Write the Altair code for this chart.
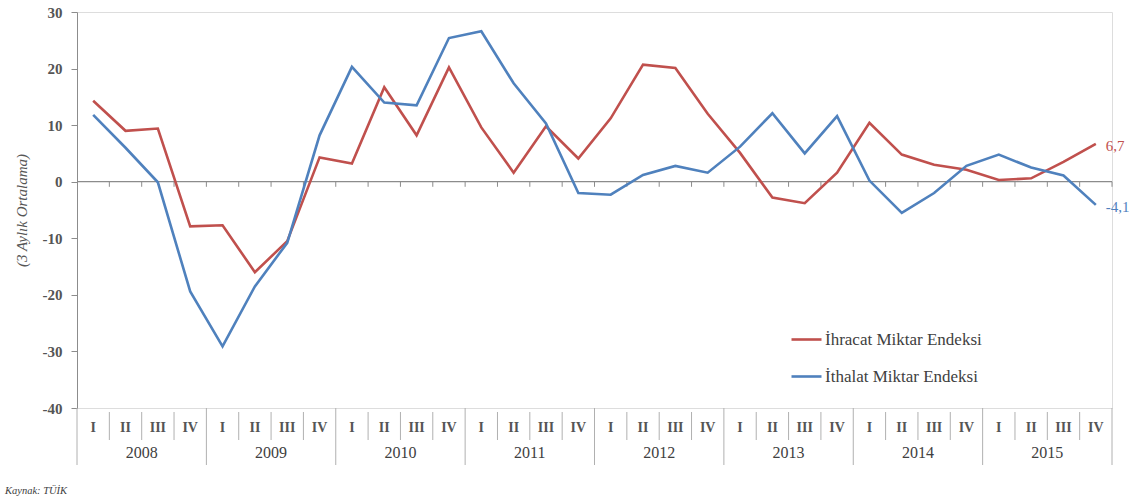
import altair as alt
import pandas as pd

years = ["2008", "2009", "2010", "2011", "2012", "2013", "2014", "2015"]
quarters = ["I", "II", "III", "IV"]
ihracat = [14.3, 9.0, 9.4, -7.9, -7.7, -16.0, -10.5, 4.3,
           3.2, 16.7, 8.2, 20.2, 9.6, 1.6, 9.8, 4.1,
           11.2, 20.7, 20.1, 12.0, 5.1, -2.8, -3.8, 1.6,
           10.4, 4.8, 3.0, 2.1, 0.3, 0.6, 3.5, 6.7]
ithalat = [11.8, 6.0, -0.1, -19.4, -29.1, -18.5, -10.8, 8.2,
           20.3, 14.0, 13.5, 25.4, 26.6, 17.4, 10.3, -2.0,
           -2.3, 1.2, 2.8, 1.6, 6.2, 12.1, 5.0, 11.6,
           0.2, -5.5, -2.0, 2.8, 4.8, 2.5, 1.1, -4.1]
series_names = ["İhracat Miktar Endeksi", "İthalat Miktar Endeksi"]
colors = ["#C0504D", "#4F81BD"]
end_labels = ["6,7", "-4,1"]
y_title = "(3 Aylık Ortalama)"
source_text = "Kaynak: TÜİK"

FONT = "Liberation Serif"
W, H = 1035, 396
n = len(years) * len(quarters)

rows = []
for s, vals in zip(series_names, [ihracat, ithalat]):
    for i, v in enumerate(vals):
        rows.append({"series": s, "pos": i + 0.5, "value": v})
df = pd.DataFrame(rows)

end_df = pd.DataFrame({
    "series": series_names,
    "pos": [n - 0.5, n - 0.5],
    "value": [ihracat[-1], ithalat[-1]],
    "label": end_labels,
})

q_df = pd.DataFrame({
    "pos": [i + 0.5 for i in range(n)],
    "q": [quarters[i % 4] for i in range(n)],
})
y_df = pd.DataFrame({
    "pos": [i * 4 + 2 for i in range(len(years))],
    "year": years,
})
qsep_df = pd.DataFrame({"pos": [i for i in range(1, n) if i % 4 != 0]})
ysep_df = pd.DataFrame({"pos": [i * 4 for i in range(len(years) + 1)]})
zt_df = pd.DataFrame({"pos": list(range(1, n + 1)), "y0": 0.0, "y1": -0.9})

xs = alt.Scale(domain=[0, n], nice=False, zero=False)
ys = alt.Scale(domain=[-40, 30], nice=False)

base_x = alt.X("pos:Q", scale=xs, axis=None)

zero_line = alt.Chart(pd.DataFrame({"a": [0], "b": [n], "y": [0]})).mark_rule(
    color="#8c8c8c", strokeWidth=1.2
).encode(x=alt.X("a:Q", scale=xs, axis=None), x2="b:Q", y=alt.Y("y:Q", scale=ys))

zero_ticks = alt.Chart(zt_df).mark_rule(color="#8c8c8c", strokeWidth=1).encode(
    x=base_x, y=alt.Y("y0:Q", scale=ys), y2="y1:Q"
)

lines = alt.Chart(df).mark_line(strokeWidth=2.6).encode(
    x=base_x,
    y=alt.Y("value:Q", scale=ys,
            axis=alt.Axis(values=list(range(-40, 31, 10)), title=y_title,
                          labelExpr="'' + datum.value",
                          grid=False, domainColor="#8c8c8c", tickColor="#8c8c8c",
                          tickSize=6, labelFont=FONT, labelFontSize=15,
                          labelFontWeight="bold", labelColor="#555555",
                          labelPadding=9, titleFont=FONT, titleFontSize=15,
                          titleFontStyle="italic", titleFontWeight="normal",
                          titleColor="#555555", titlePadding=13)),
    color=alt.Color("series:N",
                    scale=alt.Scale(domain=series_names, range=colors),
                    legend=alt.Legend(title=None, orient="none",
                                      legendX=713, legendY=311,
                                      symbolType="stroke", symbolSize=900,
                                      symbolStrokeWidth=2.6, labelFont=FONT,
                                      labelFontSize=17, labelColor="#404040",
                                      labelLimit=400, rowPadding=12,
                                      labelOffset=2)),
    detail="series:N",
)

end_text = alt.Chart(end_df).mark_text(
    align="left", dx=10, dy=2, font=FONT, fontSize=15
).encode(
    x=base_x, y=alt.Y("value:Q", scale=ys), text="label:N",
    color=alt.Color("series:N", scale=alt.Scale(domain=series_names, range=colors), legend=None),
)

qsep = alt.Chart(qsep_df).mark_rule(color="#b0b0b0", strokeWidth=1).encode(
    x=base_x, y=alt.value(H + 4), y2=alt.value(H + 32)
)
ysep = alt.Chart(ysep_df).mark_rule(color="#b0b0b0", strokeWidth=1).encode(
    x=base_x, y=alt.value(H), y2=alt.value(H + 57)
)
q_text = alt.Chart(q_df).mark_text(
    font=FONT, fontSize=14, fontWeight="bold", color="#555555", baseline="middle"
).encode(x=base_x, y=alt.value(H + 20), text="q:N")
y_text = alt.Chart(y_df).mark_text(
    font=FONT, fontSize=16, color="#404040", baseline="middle"
).encode(x=base_x, y=alt.value(H + 45), text="year:N")

src = alt.Chart(pd.DataFrame({"t": [source_text]})).mark_text(
    font=FONT, fontSize=10.5, fontStyle="italic", color="#404040", align="left"
).encode(x=alt.value(-72), y=alt.value(H + 83), text="t:N")

chart = alt.layer(
    zero_line, zero_ticks, lines, end_text, qsep, ysep, q_text, y_text, src
).properties(
    width=W, height=H,
    padding={"left": 77, "top": 12, "right": 24, "bottom": 91},
    autosize=alt.AutoSizeParams(type="none"),
).configure_view(stroke=None).configure(background="white", font=FONT)

chart.save("out.html", embed_options={"renderer": "svg", "actions": False})
